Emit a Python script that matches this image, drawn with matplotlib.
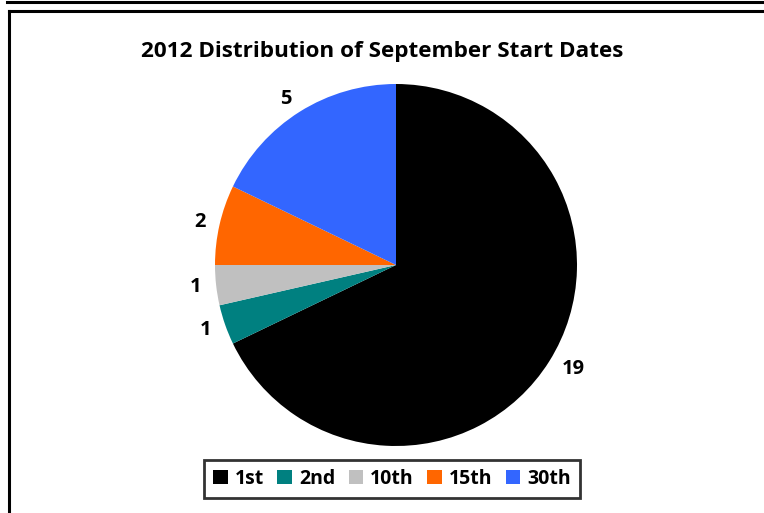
import matplotlib
matplotlib.use("Agg")
import matplotlib.pyplot as plt
from matplotlib.lines import Line2D
from matplotlib.patches import Patch

categories = ["1st", "2nd", "10th", "15th", "30th"]
values = [19, 1, 1, 2, 5]
colors = ["#000000", "#008080", "#C0C0C0", "#FF6600", "#3366FF"]
title = "2012 Distribution of September Start Dates"

W, H = 764, 513
fig = plt.figure(figsize=(W / 100, H / 100), dpi=100)
plt.rcParams['font.family'] = ['Open Sans', 'DejaVu Sans']

def fx(x): return x / W
def fy(y): return 1 - y / H
fig.add_artist(Line2D([fx(7), fx(764)], [fy(1.5), fy(1.5)], color="black", lw=2.2))
fig.add_artist(Line2D([fx(8.5), fx(764)], [fy(11), fy(11)], color="black", lw=2.2))
fig.add_artist(Line2D([fx(8.5), fx(8.5)], [fy(11), fy(513)], color="black", lw=2.2))

cx, cy, r = 396, 265, 181
ax = fig.add_axes([fx(cx - r), fy(cy + r), 2 * r / W, 2 * r / H])
wedges, texts = ax.pie(values, colors=colors, startangle=90, counterclock=False,
                       labels=[str(v) for v in values], labeldistance=1.08,
                       textprops=dict(fontsize=14.5, fontweight="bold"),
                       wedgeprops=dict(linewidth=0))
ax.set_xlim(-1, 1)
ax.set_ylim(-1, 1)
ax.set_aspect("equal")

fig.text(fx(382), fy(52), title, ha="center", va="center", fontsize=16.2, fontweight="bold")

handles = [Patch(facecolor=c, edgecolor="none") for c in colors]
leg = fig.legend(handles, categories, loc="center", bbox_to_anchor=(fx(392), fy(479)),
                 ncol=5, frameon=True, fancybox=False, handlelength=0.75, handleheight=0.75,
                 handletextpad=0.35, columnspacing=0.7, borderpad=0.45,
                 prop=dict(size=14, weight="bold"))
leg.get_frame().set_edgecolor("black")
leg.get_frame().set_linewidth(2)

fig.savefig("out.png", dpi=100)
